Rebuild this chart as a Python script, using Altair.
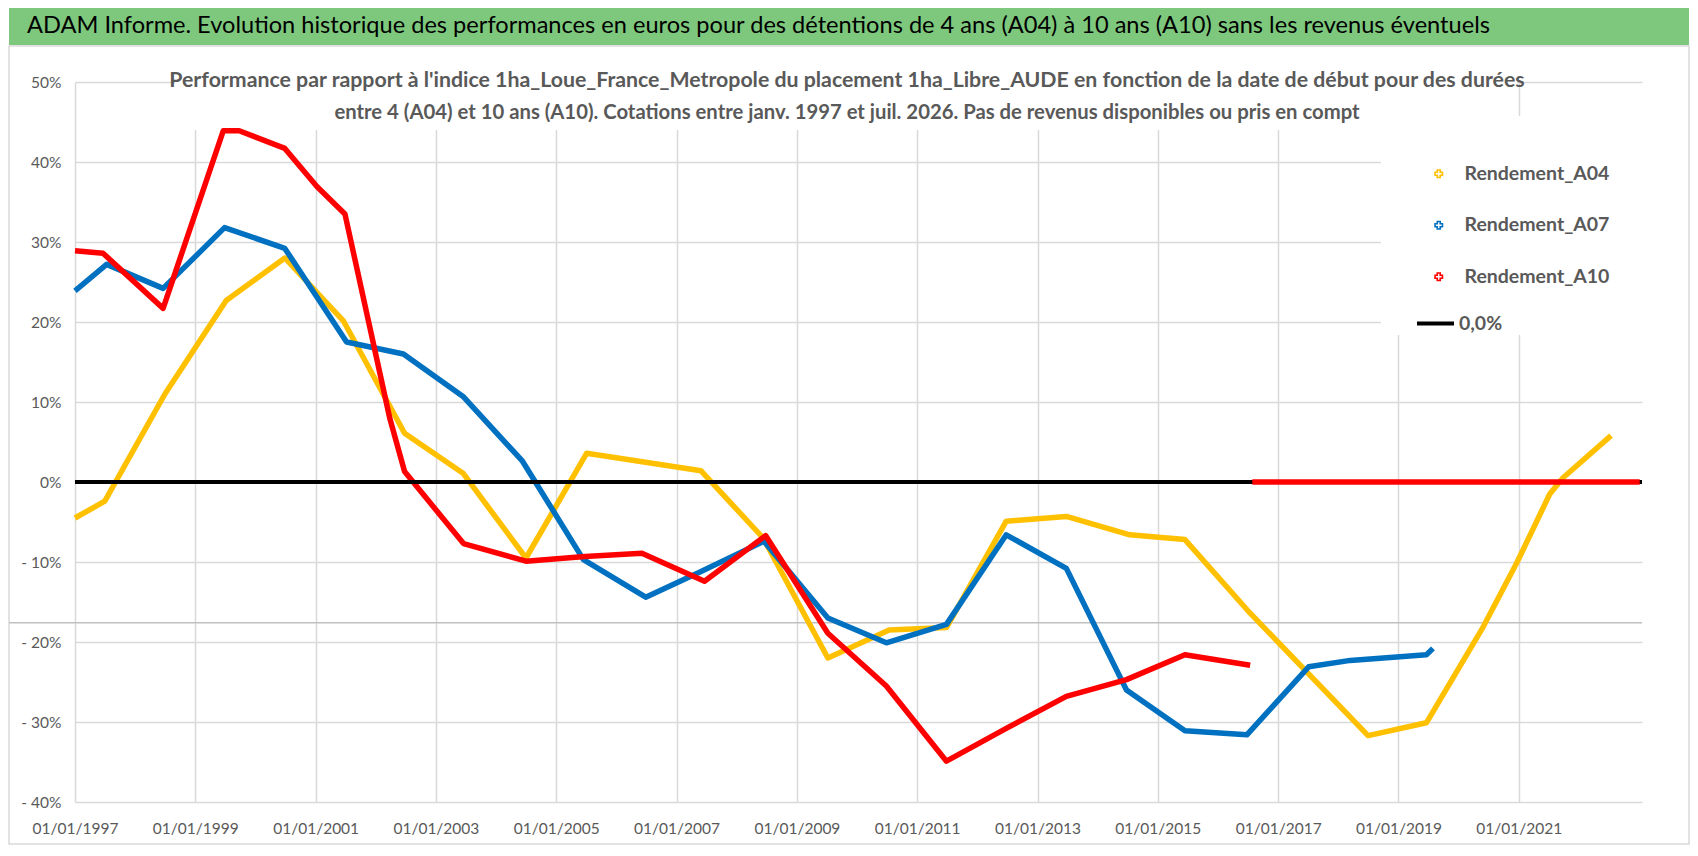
import altair as alt
import pandas as pd

# ---------------- data ----------------
banner_title = ("ADAM Informe. Evolution historique des performances en euros pour des détentions "
                "de 4 ans (A04) à 10 ans (A10) sans les revenus éventuels")
subtitle_lines = [
    "Performance par rapport à l'indice 1ha_Loue_France_Metropole  du placement 1ha_Libre_AUDE en fonction de la date de début pour des durées",
    "entre 4 (A04) et 10 ans (A10). Cotations entre janv. 1997 et juil. 2026. Pas de revenus disponibles ou pris en compt",
]

series_names = ["Rendement_A04", "Rendement_A07", "Rendement_A10"]
series_colors = ["#FFC000", "#0070C0", "#FF0000"]
zero_name = "0,0%"

a04_dates = ["1997-01-01", "1997-07-01", "1998-07-01", "1999-07-08", "2000-06-28", "2001-06-20",
             "2002-06-25", "2003-06-15", "2004-07-01", "2005-07-05", "2007-05-30", "2008-06-10",
             "2009-07-08", "2010-07-15", "2011-06-28", "2012-06-25", "2013-06-25", "2014-07-15",
             "2015-06-15", "2016-07-15", "2018-07-01", "2019-06-20", "2020-05-30", "2020-12-20",
             "2021-07-08", "2021-09-25", "2022-07-15"]
a04_values = [-4.5, -2.4, 11.0, 22.7, 28.0, 20.1,
              6.1, 1.1, -9.5, 3.6, 1.4, -7.0,
              -22.0, -18.5, -18.2, -4.9, -4.3, -6.6,
              -7.2, -16.4, -31.7, -30.1, -18.1, -10.1,
              -1.5, 0.5, 5.8]

a07_dates = ["1997-01-01", "1997-07-12", "1998-06-20", "1999-06-28", "2000-06-28", "2001-07-08",
             "2002-06-18", "2003-06-15", "2004-06-10", "2005-06-15", "2006-06-28", "2007-05-30",
             "2008-06-15", "2009-07-08", "2010-06-28", "2011-06-28", "2012-06-25", "2013-06-25",
             "2014-06-25", "2015-06-15", "2016-06-25", "2017-07-05", "2018-03-15", "2019-06-20",
             "2019-07-30"]
a07_values = [23.9, 27.2, 24.2, 31.8, 29.2, 17.5,
              16.0, 10.7, 2.6, -9.7, -14.4, -11.2,
              -7.4, -17.0, -20.1, -17.8, -6.6, -10.8,
              -26.0, -31.1, -31.6, -23.1, -22.3, -21.6,
              -20.8]

a10_dates = ["1997-01-01", "1997-06-20", "1998-06-20", "1999-06-20", "1999-09-25", "2000-06-28",
             "2001-01-10", "2001-06-28", "2002-03-28", "2002-06-25", "2003-06-18", "2004-07-01",
             "2005-06-25", "2006-06-05", "2007-06-20", "2008-06-25", "2009-07-08", "2010-06-28",
             "2011-06-28", "2012-06-25", "2013-06-25", "2014-06-25", "2015-06-15", "2016-07-15"]
a10_values = [28.9, 28.6, 21.7, 43.9, 43.9, 41.7,
              36.9, 33.5, 7.9, 1.3, -7.7, -9.9,
              -9.3, -8.9, -12.4, -6.7, -18.9, -25.5,
              -34.9, -30.8, -26.8, -24.7, -21.6, -22.9]

a10_zero_dates = ["2016-07-28", "2023-01-05"]
a10_zero_values = [0.0, 0.0]

zero_dates = ["1997-01-01", "2023-01-19"]
zero_values = [0.0, 0.0]

tick_years = list(range(1997, 2022, 2))
y_ticks = list(range(-40, 51, 10))

# ---------------- chart ----------------
FONT = "Lato"
GRAY = "#595959"
W, H = 1567, 720


def frame(dates, values, name):
    return pd.DataFrame({"date": pd.to_datetime(dates), "value": values, "serie": name})


x_scale = alt.Scale(domain=[alt.DateTime(year=1997, month=1, date=1),
                            alt.DateTime(year=2023, month=1, date=19)], nice=False)
y_scale = alt.Scale(domain=[-40, 50], nice=False, zero=False)

x_axis = alt.Axis(values=[alt.DateTime(year=y, month=1, date=1) for y in tick_years],
                  format="%d/%m/%Y", title=None, domain=False, ticks=False,
                  grid=True, gridColor="#d9d9d9", gridWidth=1.5,
                  labelFont=FONT, labelFontSize=15.5, labelColor=GRAY, labelPadding=19,
                  labelFlush=False, labelOverlap=False)
y_axis = alt.Axis(values=y_ticks, title=None, domain=False, ticks=False,
                  grid=True, gridColor="#d9d9d9", gridWidth=1.5,
                  labelFont=FONT, labelFontSize=15.5, labelColor=GRAY, labelPadding=14,
                  labelExpr="datum.value < 0 ? '- ' + abs(datum.value) + '%' : datum.value + '%'")

color_scale = alt.Scale(domain=series_names, range=series_colors)
legend_series = alt.Legend(title=None, orient="none", legendX=1306, legendY=34,
                           symbolType="cross", symbolSize=55, symbolStrokeWidth=1.6,
                           labelFont=FONT, labelFontSize=19.5, labelFontWeight="bold",
                           labelColor=GRAY, labelOffset=16, rowPadding=30.5, labelLimit=400,
                           padding=48, fillColor="white", zindex=1)
legend_zero = alt.Legend(title=None, orient="none", legendX=1340, legendY=221,
                         symbolType="stroke", symbolSize=1369, symbolStrokeWidth=4,
                         symbolStrokeColor="black",
                         labelFont=FONT, labelFontSize=19.5, labelFontWeight="bold",
                         labelColor=GRAY, labelOffset=3, padding=0, labelLimit=400, zindex=2)

one = alt.Data(values=[{}])

chart_frame = alt.Chart(one).mark_rect(fill="transparent", stroke="#d9d9d9", strokeWidth=1.5).encode(
    x=alt.value(-66), x2=alt.value(1614), y=alt.value(-36), y2=alt.value(762))
banner = alt.Chart(one).mark_rect(color="#7EC87E").encode(
    x=alt.value(-66), x2=alt.value(1614), y=alt.value(-74), y2=alt.value(-37))
banner_text = alt.Chart(one).mark_text(align="left", baseline="middle", font=FONT,
                                       fontSize=23.6, color="#000000").encode(
    x=alt.value(-48), y=alt.value(-56), text=alt.value(banner_title))
title_bg = alt.Chart(one).mark_rect(color="white").encode(
    x=alt.value(100), x2=alt.value(1442), y=alt.value(-20), y2=alt.value(48))
title1 = alt.Chart(one).mark_text(align="center", baseline="middle", font=FONT, fontSize=21.3,
                                  fontWeight="bold", color=GRAY).encode(
    x=alt.value(772), y=alt.value(-1), text=alt.value(subtitle_lines[0]))
title2 = alt.Chart(one).mark_text(align="center", baseline="middle", font=FONT, fontSize=20.3,
                                  fontWeight="bold", color=GRAY).encode(
    x=alt.value(772), y=alt.value(31), text=alt.value(subtitle_lines[1]))
artifact = alt.Chart(one).mark_rule(color="#c0c0c0", strokeWidth=1.5).encode(
    y=alt.datum(-17.6), x=alt.value(-66), x2=alt.value(W))


def series_layer(df):
    return alt.Chart(df).mark_line(strokeWidth=5.5, strokeJoin="round").encode(
        x=alt.X("date:T", scale=x_scale, axis=x_axis),
        y=alt.Y("value:Q", scale=y_scale, axis=y_axis),
        color=alt.Color("serie:N", scale=color_scale, legend=legend_series),
    )


l04 = series_layer(frame(a04_dates, a04_values, series_names[0]))
l07 = series_layer(frame(a07_dates, a07_values, series_names[1]))
l10 = series_layer(frame(a10_dates, a10_values, series_names[2]))
l10z = series_layer(frame(a10_zero_dates, a10_zero_values, series_names[2]))

zero_line = alt.Chart(frame(zero_dates, zero_values, zero_name)).mark_line(
    color="black", strokeWidth=4).encode(
    x=alt.X("date:T", scale=x_scale, axis=x_axis),
    y=alt.Y("value:Q", scale=y_scale, axis=y_axis),
    strokeDash=alt.StrokeDash("serie:N", scale=alt.Scale(domain=[zero_name], range=[[1, 0]]),
                              legend=legend_zero),
)

chart = alt.layer(
    chart_frame, banner, banner_text, title_bg, artifact,
    l04, l07, l10, zero_line, l10z, title1, title2,
).properties(width=W, height=H, padding=0, background="white").configure_view(stroke=None)

chart.save("out.html", embed_options={"renderer": "svg", "actions": False})
